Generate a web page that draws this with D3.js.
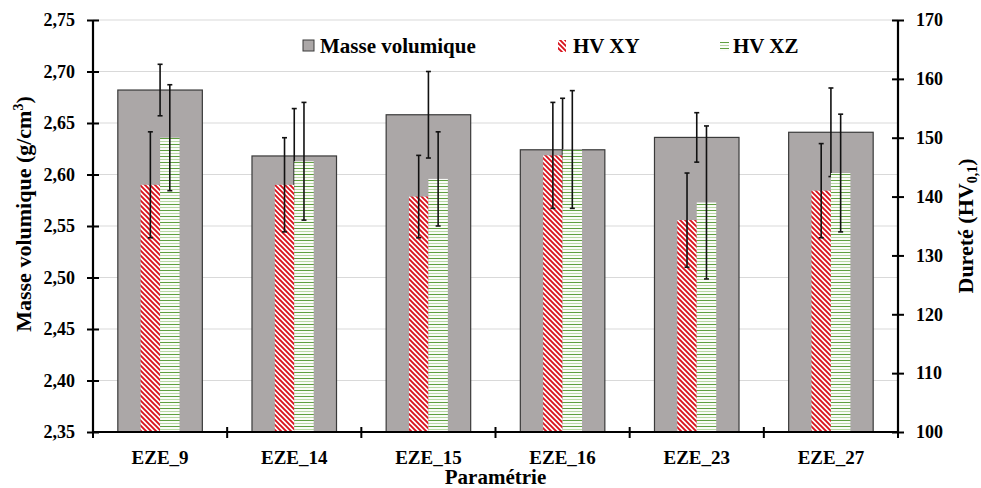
<!DOCTYPE html>
<html>
<head>
<meta charset="utf-8">
<script src="https://cdn.jsdelivr.net/npm/d3@7"></script>
<style>
html,body{margin:0;padding:0;background:#fff;}
text{font-family:"Liberation Serif","Times New Roman",serif;font-weight:bold;fill:#000;}
</style>
</head>
<body>
<svg id="chart" width="981" height="488"></svg>
<script>
const categories = ["EZE_9","EZE_14","EZE_15","EZE_16","EZE_23","EZE_27"];
const masseValues = [2.682, 2.618, 2.658, 2.624, 2.636, 2.641];
const masseErrors = [0.025, 0.046, 0.042, 0.050, 0.024, 0.043];
const hvXYValues = [142, 142, 140, 147, 136, 141];
const hvXYErrors = [9, 8, 7, 9, 8, 8];
const hvXZValues = [150, 146, 143, 148, 139, 144];
const hvXZErrors = [9, 10, 8, 10, 13, 10];
const leftTicks = [2.35, 2.40, 2.45, 2.50, 2.55, 2.60, 2.65, 2.70, 2.75];
const rightTicks = [100, 110, 120, 130, 140, 150, 160, 170];
const legendLabels = ["Masse volumique", "HV XY", "HV XZ"];

const svg = d3.select("#chart");
const L = 93, R = 898, T = 20, B = 432;

const x = d3.scaleBand().domain(categories).range([L, R]).padding(0);
const yL = d3.scaleLinear().domain([2.35, 2.75]).range([B, T]);
const yR = d3.scaleLinear().domain([100, 170]).range([B, T]);
const fmt = v => d3.format(".2f")(v).replace(".", ",");

// patterns
const defs = svg.append("defs");
const pXY = defs.append("pattern").attr("id","pXY").attr("patternUnits","userSpaceOnUse")
  .attr("width",5).attr("height",5);
pXY.append("rect").attr("width",5).attr("height",5).attr("fill","#fff");
pXY.append("path").attr("d","M-1,-1 L6,6 M-1,4 L1,6 M4,-1 L6,1")
  .attr("stroke","#d9121c").attr("stroke-width",1.9);
const pXZ = defs.append("pattern").attr("id","pXZ").attr("patternUnits","userSpaceOnUse")
  .attr("width",6).attr("height",6);
pXZ.append("rect").attr("width",6).attr("height",6).attr("fill","#fafcf8");
pXZ.append("rect").attr("y",0).attr("width",6).attr("height",1).attr("fill","#5f9f40");
pXZ.append("rect").attr("y",3).attr("width",6).attr("height",1).attr("fill","#b9d8a6");

// gridlines
svg.append("g").selectAll("line").data(leftTicks.slice(1)).join("line")
  .attr("x1", L).attr("x2", R).attr("y1", d => yL(d)).attr("y2", d => yL(d))
  .attr("stroke", "#d9d9d9").attr("stroke-width", 1);

const bw = x.bandwidth();
const masseW = bw * 0.63;
const hvW = bw * 0.145;

// error bar helper
function errBars(g, data, xf, yScale, cap) {
  const sel = g.selectAll("g").data(data).join("g");
  sel.append("line").attr("x1", xf).attr("x2", xf)
    .attr("y1", d => yScale(d.v + d.e)).attr("y2", d => yScale(d.v - d.e));
  sel.append("line").attr("x1", (d,i) => xf(d,i) - cap).attr("x2", (d,i) => xf(d,i) + cap)
    .attr("y1", d => yScale(d.v + d.e)).attr("y2", d => yScale(d.v + d.e));
  sel.append("line").attr("x1", (d,i) => xf(d,i) - cap).attr("x2", (d,i) => xf(d,i) + cap)
    .attr("y1", d => yScale(d.v - d.e)).attr("y2", d => yScale(d.v - d.e));
  sel.selectAll("line").attr("stroke", "#111").attr("stroke-width", 1.6);
}

const masseData = categories.map((c,i) => ({c, v: masseValues[i], e: masseErrors[i]}));
const xyData = categories.map((c,i) => ({c, v: hvXYValues[i], e: hvXYErrors[i]}));
const xzData = categories.map((c,i) => ({c, v: hvXZValues[i], e: hvXZErrors[i]}));
const cx = d => x(d.c) + bw / 2;

// masse bars
svg.append("g").selectAll("rect").data(masseData).join("rect")
  .attr("x", d => cx(d) - masseW / 2).attr("width", masseW)
  .attr("y", d => yL(d.v)).attr("height", d => B - yL(d.v))
  .attr("fill", "#aba7a7").attr("stroke", "#3a3a3a").attr("stroke-width", 1.2);
errBars(svg.append("g"), masseData, d => cx(d), yL, 2.5);

// HV XY
svg.append("g").selectAll("rect").data(xyData).join("rect")
  .attr("x", d => cx(d) - hvW).attr("width", hvW)
  .attr("y", d => yR(d.v)).attr("height", d => B - yR(d.v))
  .attr("fill", "url(#pXY)");
errBars(svg.append("g"), xyData, d => cx(d) - hvW / 2, yR, 2.5);

// HV XZ
svg.append("g").selectAll("rect").data(xzData).join("rect")
  .attr("x", d => cx(d)).attr("width", hvW)
  .attr("y", d => yR(d.v)).attr("height", d => B - yR(d.v))
  .attr("fill", "url(#pXZ)");
errBars(svg.append("g"), xzData, d => cx(d) + hvW / 2, yR, 2.5);

// axes
const axL = svg.append("g").attr("transform", `translate(${L},0)`)
  .call(d3.axisLeft(yL).tickValues(leftTicks).tickFormat(fmt).tickSize(6).tickPadding(12));
axL.selectAll(".tick line").attr("x1", 6).attr("x2", -6);
const axR = svg.append("g").attr("transform", `translate(${R},0)`)
  .call(d3.axisRight(yR).tickValues(rightTicks).tickFormat(d3.format("d")).tickSize(6).tickPadding(12));
axR.selectAll(".tick line").attr("x1", -6).attr("x2", 6);
const axB = svg.append("g").attr("transform", `translate(0,${B})`)
  .call(d3.axisBottom(x).tickSize(0).tickPadding(19));
axB.selectAll(".tick line").remove();
const bounds = categories.map(c => x(c)).concat([R]);
axB.selectAll("line.bt").data(bounds).join("line").attr("class","bt")
  .attr("x1", d => d).attr("x2", d => d).attr("y1", -5).attr("y2", 6);
[axL, axR, axB].forEach(a => {
  a.selectAll(".domain").attr("stroke", "#000").attr("stroke-width", 2.2);
  a.selectAll("line").attr("stroke", "#000").attr("stroke-width", 2);
  a.selectAll("text").attr("font-family", '"Liberation Serif", serif')
    .attr("font-weight", "bold").attr("font-size", 18).attr("fill", "#000");
});
axB.selectAll("text").attr("font-size", 19);
axL.select(".domain").attr("d", `M0,${T}V${B}`);
axR.select(".domain").attr("d", `M0,${T}V${B}`);
axB.select(".domain").attr("d", `M${L},0H${R}`);

// titles
svg.append("text").attr("x", (L + R) / 2).attr("y", 484).attr("text-anchor", "middle")
  .attr("font-size", 21).text("Paramétrie");
const tL = svg.append("text").attr("transform", "translate(31,214) rotate(-90)")
  .attr("text-anchor", "middle").attr("font-size", 22);
tL.append("tspan").text("Masse volumique (g/cm");
tL.append("tspan").attr("font-size", 14).attr("dy", -8).text("3");
tL.append("tspan").attr("dy", 8).text(")");
const tR = svg.append("text").attr("transform", "translate(973,226) rotate(-90)")
  .attr("text-anchor", "middle").attr("font-size", 22);
tR.append("tspan").text("Dureté (HV");
tR.append("tspan").attr("font-size", 14).attr("dy", 4).text("0,1");
tR.append("tspan").attr("dy", -4).text(")");

// legend
const lg = svg.append("g");
lg.append("rect").attr("x", 303).attr("y", 40).attr("width", 11).attr("height", 11)
  .attr("fill", "#aba7a7").attr("stroke", "#3a3a3a").attr("stroke-width", 1);
lg.append("text").attr("x", 320).attr("y", 53).attr("font-size", 21).text(legendLabels[0]);
lg.append("rect").attr("x", 558).attr("y", 40).attr("width", 8).attr("height", 12)
  .attr("fill", "url(#pXY)");
lg.append("text").attr("x", 573).attr("y", 53).attr("font-size", 21).text(legendLabels[1]);
lg.append("rect").attr("x", 720).attr("y", 42).attr("width", 9).attr("height", 9)
  .attr("fill", "url(#pXZ)");
lg.append("text").attr("x", 733).attr("y", 53).attr("font-size", 21).text(legendLabels[2]);
</script>
</body>
</html>
